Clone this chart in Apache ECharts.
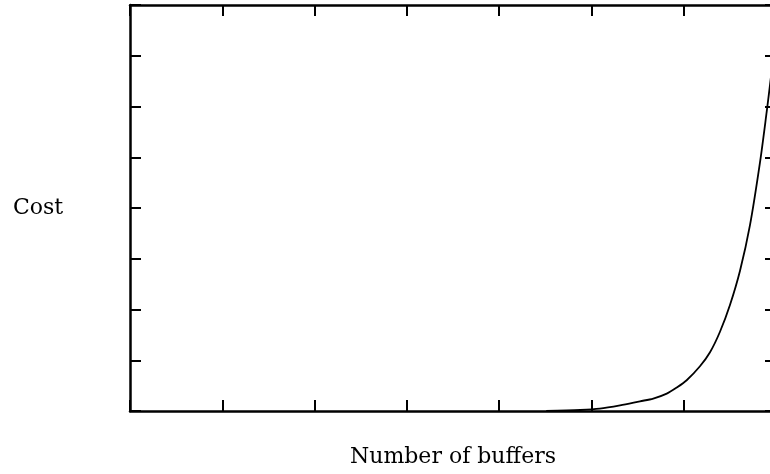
<!DOCTYPE html>
<html>
<head>
<meta charset="utf-8">
<script src="https://cdn.jsdelivr.net/npm/echarts@6/dist/echarts.min.js"></script>
<style>
html,body{margin:0;padding:0;background:#fff;overflow:hidden;width:770px;height:474px;}
#chart{width:778px;height:474px;}
</style>
</head>
<body>
<div id="chart"></div>
<script>
// Data (axis units: x 0..7, y 0..8)
const bufferValues = [4.51, 4.88, 5.09, 5.31, 5.526, 5.67, 5.816, 5.924, 6.032, 6.176, 6.285, 6.393, 6.502, 6.61, 6.718, 6.827, 6.899, 6.935, 6.968, 7.0];
const costValues   = [0, 0.02, 0.045, 0.11, 0.191, 0.245, 0.343, 0.462, 0.606, 0.882, 1.158, 1.562, 2.095, 2.765, 3.663, 4.905, 5.892, 6.424, 6.927, 7.45];
const xAxisName = 'Number of buffers';
const yAxisName = 'Cost';
const xRange = [0, 7];
const yRange = [0, 8];

const points = bufferValues.map((x, i) => [x, costValues[i]]);
const font = 'DejaVu Serif';
const tick = { show: true, inside: true, length: 11, lineStyle: { color: '#000', width: 2 } };
const line = { show: true, onZero: false, lineStyle: { color: '#000', width: 2.5 } };

const chart = echarts.init(document.getElementById('chart'), null, { renderer: 'canvas' });
chart.setOption({
  animation: false,
  backgroundColor: '#fff',
  grid: { left: 130, top: 5, right: 2, bottom: 63, containLabel: false },
  xAxis: [
    { type: 'value', min: xRange[0], max: xRange[1], interval: 1, position: 'bottom',
      axisLine: line, axisTick: tick, axisLabel: { show: false }, splitLine: { show: false },
      name: xAxisName, nameLocation: 'middle', nameGap: 46,
      nameTextStyle: { fontFamily: font, fontSize: 22, color: '#000', align: 'center', verticalAlign: 'middle' } },
    { type: 'value', min: xRange[0], max: xRange[1], interval: 1, position: 'top',
      axisLine: line, axisTick: tick, axisLabel: { show: false }, splitLine: { show: false } }
  ],
  yAxis: [
    { type: 'value', min: yRange[0], max: yRange[1], interval: 1, position: 'left',
      axisLine: line, axisTick: tick, axisLabel: { show: false }, splitLine: { show: false },
      name: yAxisName, nameLocation: 'middle', nameGap: 92, nameRotate: 0,
      nameTextStyle: { fontFamily: font, fontSize: 22, color: '#000', align: 'center', verticalAlign: 'middle', padding: [4, 0, 0, 0] } },
    { type: 'value', min: yRange[0], max: yRange[1], interval: 1, position: 'right',
      axisLine: line, axisTick: tick, axisLabel: { show: false }, splitLine: { show: false } }
  ],
  series: [{
    type: 'line', data: points, smooth: 0.3, symbol: 'none', clip: true,
    lineStyle: { color: '#000', width: 1.8 }
  }]
});
</script>
</body>
</html>
